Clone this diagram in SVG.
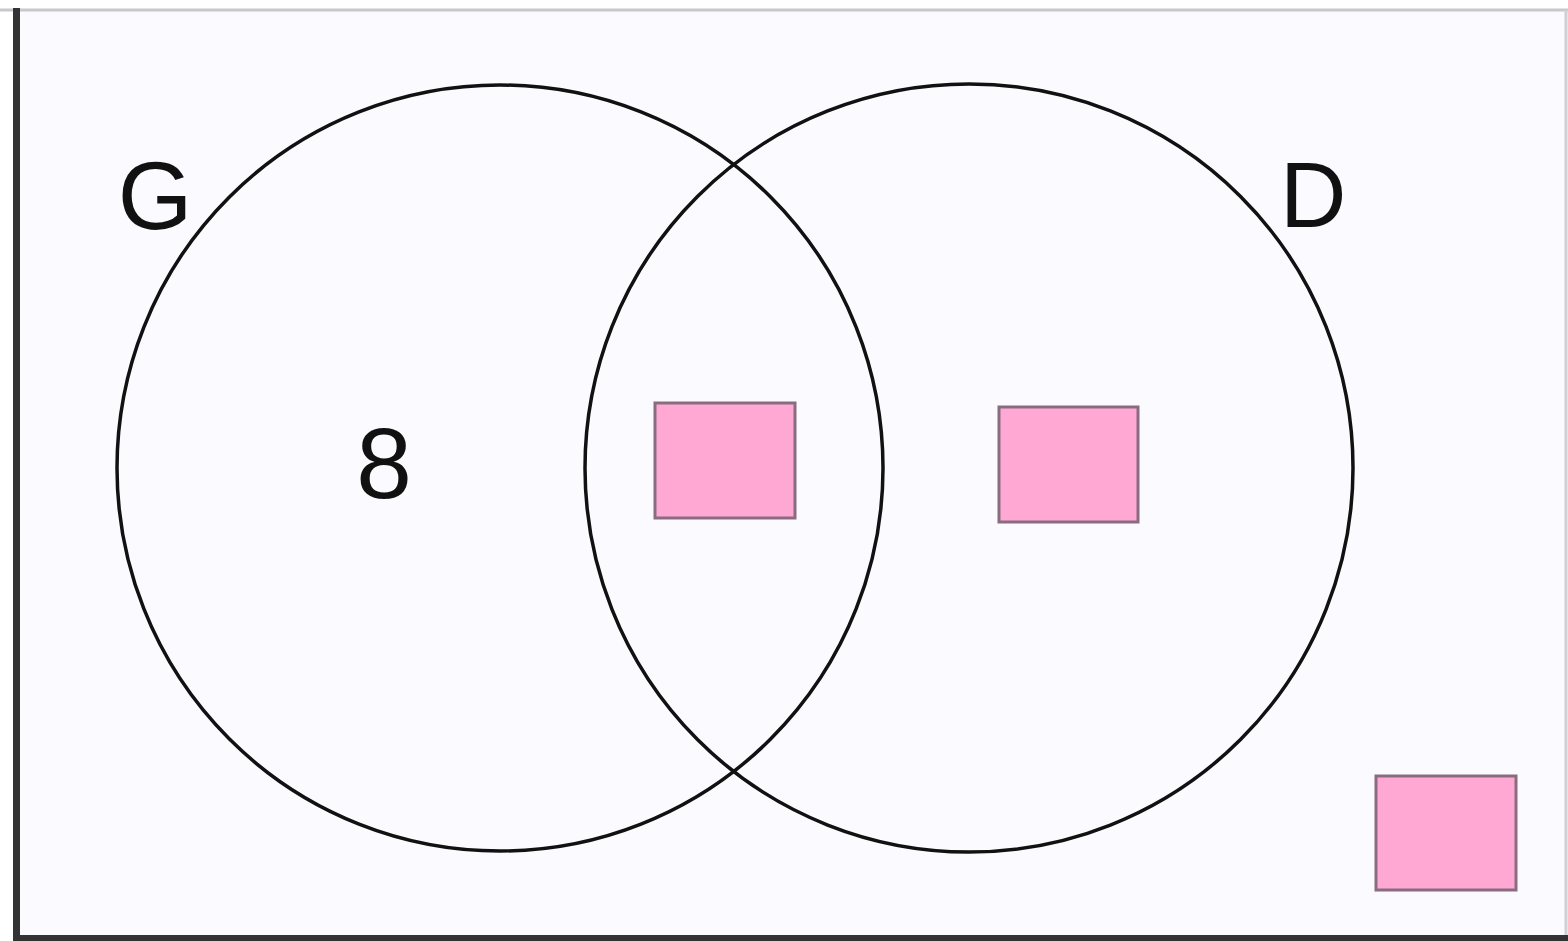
<svg xmlns="http://www.w3.org/2000/svg" width="1568" height="941" viewBox="0 0 1568 941">
<style>
.set{fill:none;stroke:#111;stroke-width:3.5}
.box{fill:#ffa8d4;stroke:#8a6c80;stroke-width:3}
.lbl{font-family:"Liberation Sans",Arial,sans-serif;fill:#111}
</style>
<rect x="0" y="0" width="1568" height="941" fill="#ffffff"/>
<rect x="16" y="9" width="1552" height="929" fill="#fafaff"/>
<line x1="0" y1="10" x2="1568" y2="10" stroke="#c8c8cc" stroke-width="3"/>
<line x1="1566" y1="10" x2="1566" y2="941" stroke="#d0d0d4" stroke-width="3"/>
<line x1="16.5" y1="8" x2="16.5" y2="941" stroke="#333" stroke-width="7"/>
<line x1="13" y1="938" x2="1568" y2="938" stroke="#333" stroke-width="6"/>
<g id="setG">
<circle class="set" cx="500" cy="468" r="383"/>
<text class="lbl" x="155" y="229" font-size="96" text-anchor="middle">G</text>
</g>
<g id="setD">
<circle class="set" cx="969" cy="468" r="384"/>
<text class="lbl" x="1280" y="227" font-size="92">D</text>
</g>
<g id="onlyG">
<text class="lbl" x="384" y="498" font-size="100" text-anchor="middle">8</text>
</g>
<g id="both">
<rect class="box" x="655" y="403" width="140" height="115"/>
</g>
<g id="onlyD">
<rect class="box" x="999" y="407" width="139" height="115"/>
</g>
<g id="neither">
<rect class="box" x="1376" y="776" width="140" height="114"/>
</g>
<g id="connectors"></g>
</svg>
